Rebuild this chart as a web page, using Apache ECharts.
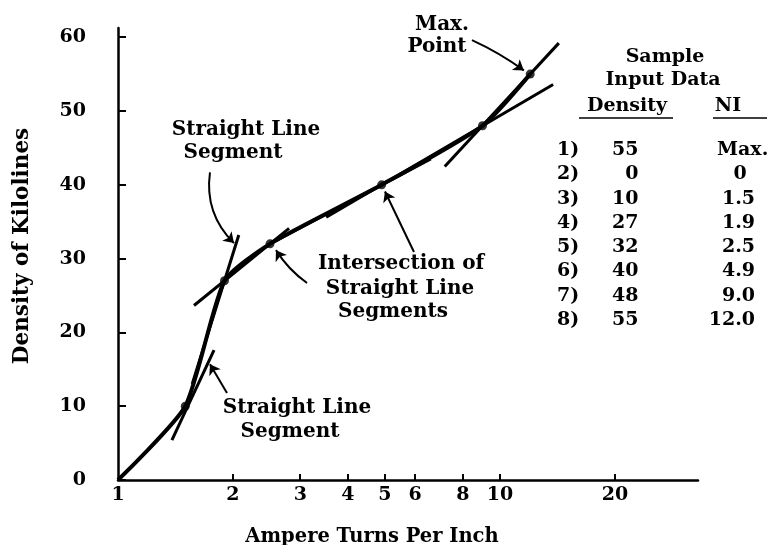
<!DOCTYPE html>
<html>
<head>
<meta charset="utf-8">
<title>Density of Kilolines vs Ampere Turns Per Inch</title>
<script src="https://cdn.jsdelivr.net/npm/echarts@6/dist/echarts.min.js"></script>
<style>
  html, body { margin: 0; padding: 0; background: #fff; }
  #chart { width: 778px; height: 545px; }
</style>
</head>
<body>
<div id="chart"></div>
<script>
// Sample input data: magnetisation curve points (NI, density)
const niValues = [1.5, 1.9, 2.5, 4.9, 9.0, 12.0];
const densityValues = [10, 27, 32, 40, 48, 55];
// curve starts at the axis origin
const curveStart = [1, 0];

// straight line segments drawn through neighbouring points (NI, density end points)
const segmentA = [[1.384, 5.4], [1.784, 17.6]];
const segmentB = [[1.564, 13.0], [2.071, 33.2]];
const segmentC = [[1.581, 23.65], [2.805, 34.1]];
const segmentD = [[2.5, 32.0], [6.59, 43.52]];
const segmentE = [[3.508, 35.6], [13.78, 53.6]];
const segmentF = [[7.17, 42.47], [14.26, 59.2]];

// axis ticks
const xTicks = [1, 2, 3, 4, 5, 6, 8, 10, 20];
const yTicks = [0, 10, 20, 30, 40, 50, 60];

// sample input data table
const tableRows = ['1)', '2)', '3)', '4)', '5)', '6)', '7)', '8)'];
const tableDensity = ['55', '0', '10', '27', '32', '40', '48', '55'];
const tableNI = ['Max.', '0', '1.5', '1.9', '2.5', '4.9', '9.0', '12.0'];

const FONT = 'DejaVu Serif';
const INK = '#000';

const chart = echarts.init(document.getElementById('chart'), null, { renderer: 'canvas' });

const curveData = [curveStart].concat(niValues.map((x, i) => [x, densityValues[i]]));
const pointData = niValues.map((x, i) => [x, densityValues[i]]);
const segments = [segmentA, segmentB, segmentC, segmentD, segmentE, segmentF];

// annotation arrows, in data coordinates: [tail, head], bend
const arrows = [
  { coords: [[1.741, 41.7], [2.012, 32.1]], bend: -0.25 },
  { coords: [[3.125, 26.7], [2.592, 31.15]], bend: 0.1 },
  { coords: [[5.955, 30.9], [5.0, 39.1]], bend: 0 },
  { coords: [[1.929, 11.8], [1.741, 15.7]], bend: 0 },
  { coords: [[8.447, 59.6], [11.55, 55.5]], bend: 0.05 }
];

function text(str, x, y, opts) {
  opts = opts || {};
  return {
    type: 'text',
    x: x, y: y,
    rotation: opts.rotation || 0,
    style: {
      text: str,
      fill: INK,
      font: 'bold ' + (opts.size || 20) + 'px "' + FONT + '"',
      textAlign: opts.align || 'center',
      textVerticalAlign: 'middle'
    }
  };
}

const graphics = [];
// axis titles
graphics.push(text('Ampere Turns Per Inch', 372, 537, { size: 19.5 }));
graphics.push(text('Density of Kilolines', 22, 246, { rotation: Math.PI / 2, size: 21.5 }));
// annotation labels
graphics.push(text('Max.', 442, 25));
graphics.push(text('Point', 437, 47));
graphics.push(text('Straight Line', 246, 130));
graphics.push(text('Segment', 233, 153));
graphics.push(text('Intersection of', 401, 264));
graphics.push(text('Straight Line', 400, 289));
graphics.push(text('Segments', 393, 312));
graphics.push(text('Straight Line', 297, 408));
graphics.push(text('Segment', 290, 432));
// table header
graphics.push(text('Sample', 665, 57, { size: 19 }));
graphics.push(text('Input Data', 663, 80, { size: 19 }));
graphics.push(text('Density', 627, 106, { size: 19 }));
graphics.push(text('NI', 728, 106, { size: 19 }));
graphics.push({ type: 'line', shape: { x1: 579, y1: 118, x2: 673, y2: 118 }, style: { stroke: INK, lineWidth: 1.6 } });
graphics.push({ type: 'line', shape: { x1: 713, y1: 118, x2: 767, y2: 118 }, style: { stroke: INK, lineWidth: 1.6 } });
// table rows
tableRows.forEach((r, i) => {
  const y = 150 + i * 24.3;
  graphics.push(text(r, 557, y, { align: 'left', size: 19 }));
  const d = tableDensity[i];
  graphics.push(text(d.length === 1 ? '\u2007' + d : d, 612, y, { align: 'left', size: 19 }));
  const n = tableNI[i];
  if (n === 'Max.') graphics.push(text(n, 717, y, { align: 'left', size: 19 }));
  else if (n.indexOf('.') < 0) graphics.push(text(n, 740, y, { size: 19 }));
  else graphics.push(text(n, 755, y, { align: 'right', size: 19 }));
});

const axisLabelStyle = { color: INK, fontFamily: FONT, fontWeight: 'bold', fontSize: 19 };

const option = {
  animation: false,
  backgroundColor: '#fff',
  grid: { left: 118, right: 80, top: 28, bottom: 65, outerBoundsMode: 'none' },
  xAxis: {
    type: 'log',
    logBase: 10,
    min: 1,
    max: 33,
    axisLine: { show: true, lineStyle: { color: INK, width: 2.5 } },
    axisTick: { show: true, inside: true, length: 6, lineStyle: { color: INK, width: 2 }, customValues: xTicks.slice(1) },
    minorTick: { show: false },
    splitLine: { show: false },
    axisLabel: Object.assign({ margin: 6, customValues: xTicks, formatter: v => String(Math.round(v)) }, axisLabelStyle)
  },
  yAxis: {
    type: 'value',
    min: 0,
    max: 61.25,
    axisLine: { show: true, lineStyle: { color: INK, width: 2.5 } },
    axisTick: { show: true, inside: true, length: 8, lineStyle: { color: INK, width: 2 }, customValues: yTicks },
    splitLine: { show: false },
    axisLabel: Object.assign({ margin: 32, customValues: yTicks }, axisLabelStyle)
  },
  series: [
    {
      type: 'line',
      data: curveData,
      smooth: 0.2,
      symbol: 'none',
      lineStyle: { color: INK, width: 4 },
      z: 3
    },
    ...segments.map(s => ({
      type: 'line',
      data: s,
      symbol: 'none',
      lineStyle: { color: INK, width: 3 },
      z: 2
    })),
    {
      type: 'scatter',
      data: pointData,
      symbol: 'circle',
      symbolSize: 9,
      itemStyle: { color: INK },
      z: 4
    },
    {
      type: 'lines',
      coordinateSystem: 'cartesian2d',
      symbol: ['none', 'arrow'],
      symbolSize: 10,
      lineStyle: { color: INK, width: 2, opacity: 1 },
      data: arrows.map(a => ({ coords: a.coords, lineStyle: { curveness: a.bend } })),
      z: 5
    }
  ],
  graphic: graphics
};

chart.setOption(option);
</script>
</body>
</html>
